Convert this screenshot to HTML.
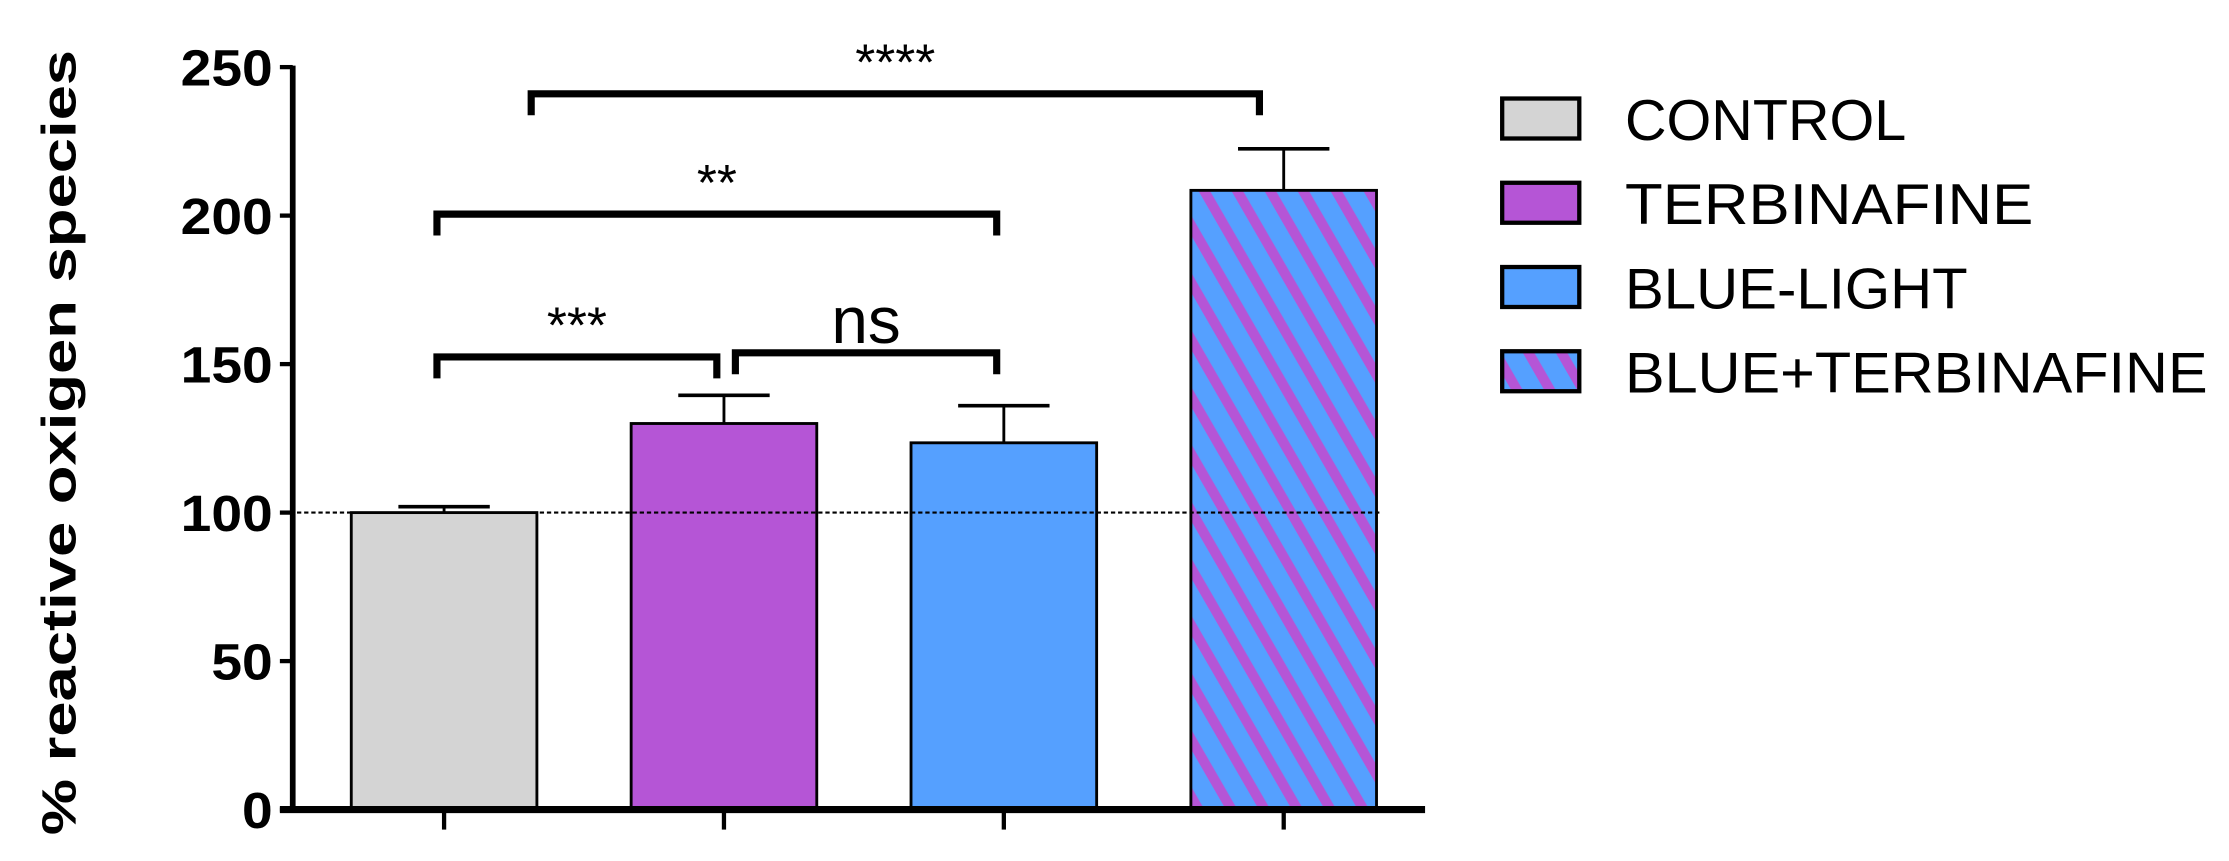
<!DOCTYPE html>
<html><head><meta charset="utf-8"><style>html,body{margin:0;padding:0;background:#fff}svg{display:block}</style></head>
<body>
<svg id="chart" width="2229" height="861" viewBox="0 0 1561 603" preserveAspectRatio="none" xmlns="http://www.w3.org/2000/svg" font-family="Liberation Sans, Arial, sans-serif">
<defs>
<pattern id="stripes" patternUnits="userSpaceOnUse" width="20" height="20" patternTransform="rotate(-30)">
<rect width="20" height="20" fill="#55a0ff"/><rect width="7" height="20" fill="#b555d6"/>
</pattern>
</defs>
<g id="plot"></g>
</svg>
<script>
const categories = ["CONTROL", " TERBINAFINE", "BLUE-LIGHT", "BLUE+TERBINAFINE"];
const values = [100, 130, 123.5, 208.5];
const errors = [2, 9.5, 12.5, 14];
const ticks = [0, 50, 100, 150, 200, 250];
const fills = ["#d4d4d4", "#b555d6", "#55a0ff", "url(#stripes)"];
const brackets = [[0,3,"****",241],[0,2,"**",200.5],[0,1,"***",152.4],[1,2,"ns",153.8]];
const legendWidths = [197, 286, 240, 408];
const NS = "http://www.w3.org/2000/svg";
const g = document.getElementById('plot');
const y0 = 567, yTop = 47, vmax = 250;
const y = v => y0 - (v / vmax) * (y0 - yTop);
const barX = i => 246 + i * 196;
const barW = 130;
const cx = i => barX(i) + barW / 2;
function el(tag, attrs, text) {
  const e = document.createElementNS(NS, tag);
  for (const k in attrs) e.setAttribute(k, attrs[k]);
  if (text !== undefined) e.textContent = text;
  g.appendChild(e);
  return e;
}
categories.forEach((c, i) => {
  const err = el('line', {x1: cx(i), x2: cx(i), y1: y(values[i]), y2: y(values[i] + errors[i]), stroke: '#000', 'stroke-width': 2});
  
  
  const cap = el('line', {x1: cx(i) - 32, x2: cx(i) + 32, y1: y(values[i] + errors[i]), y2: y(values[i] + errors[i]), stroke: '#000', 'stroke-width': 2.5});
  
  
  const b = el('rect', {x: barX(i), y: y(values[i]), width: barW, height: y0 - y(values[i]), fill: fills[i], stroke: '#000', 'stroke-width': 2});
  
  
  const t = el('line', {x1: cx(i), x2: cx(i), y1: y0, y2: y0 + 14, stroke: '#000', 'stroke-width': 3});
  
  
  const ly = 69 + i * 59;
  const lb = el('rect', {x: 1052, y: ly, width: 54, height: 28, fill: fills[i], stroke: '#000', 'stroke-width': 3});
  
  
  const lt = el('text', {x: 1138, y: ly + 29, 'font-size': 40, 'xml:space': 'preserve', textLength: legendWidths[i], lengthAdjust: 'spacingAndGlyphs'}, c);
  
  
});
const ref = el('line', {x1: 203, x2: 966, y1: y(100), y2: y(100), stroke: '#000', 'stroke-width': 1.5, 'stroke-dasharray': '3,2'});


const yAxis = el('line', {x1: 205, x2: 205, y1: yTop - 1, y2: y0 + 2, stroke: '#000', 'stroke-width': 4});


const xAxis = el('line', {x1: 196, x2: 998, y1: y0, y2: y0, stroke: '#000', 'stroke-width': 5});


ticks.forEach(v => {
  const tl = el('line', {x1: 196, x2: 205, y1: y(v), y2: y(v), stroke: '#000', 'stroke-width': 3});
  
  
  const s = String(v);
  const tt = el('text', {x: 191, y: y(v) + 13, 'font-size': 36, 'font-weight': 'bold', 'text-anchor': 'end', textLength: s.length * 21.5, lengthAdjust: 'spacingAndGlyphs'}, s);
  
  
});
const yt = el('text', {x: 0, y: 0, 'font-size': 34, 'font-weight': 'bold', 'text-anchor': 'middle', textLength: 550, lengthAdjust: 'spacingAndGlyphs', transform: 'translate(53,310) rotate(-90)'}, '% reactive oxigen species');


brackets.forEach((bk, k) => {
  const [a, b, lab, v] = bk;
  const x1 = cx(a) + (k === 3 ? 8 : (k === 0 ? 61 : -5)), x2 = cx(b) + (k === 2 ? -5 : (k===0?-17:-5));
  const by = y(v);
  const p = el('path', {d: `M${x1},${by + 15} V${by} H${x2} V${by + 15}`, fill: 'none', stroke: '#000', 'stroke-width': 5});
  
  
  const big = lab === 'ns';
  const t = el('text', {x: (x1 + x2) / 2, y: big ? by - 7 : by - 10, 'font-size': big ? 46 : 36, 'text-anchor': 'middle'}, lab);
  
  
});
</script>
</body></html>
